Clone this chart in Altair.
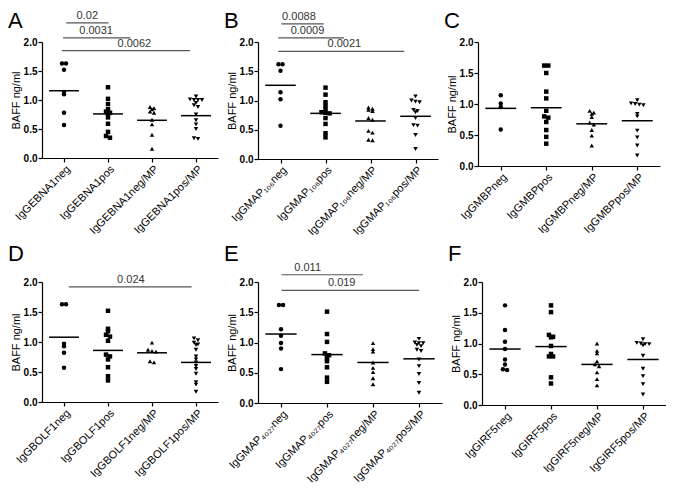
import altair as alt
import pandas as pd

FONT = "Liberation Sans"
SHAPES = ["circle", "square", "triangle-up", "triangle-down"]

# ---------------- Panel A ----------------
A_NAMES = ["IgGEBNA1neg", "IgGEBNA1pos", "IgGEBNA1neg/MP", "IgGEBNA1pos/MP"]
A_G0 = [1.63, 1.63, 1.52, 1.14, 1.10, 0.78, 0.57]
A_G1 = [1.22, 1.02, 0.93, 0.84, 0.80, 0.78, 0.76, 0.70, 0.59, 0.45, 0.38, 0.35]
A_G2 = [0.88, 0.86, 0.84, 0.80, 0.78, 0.66, 0.58, 0.40, 0.16]
A_G3 = [1.06, 1.01, 1.00, 1.00, 1.00, 0.95, 0.91, 0.88, 0.75, 0.65, 0.58, 0.50, 0.34, 0.33]
A_MEANS = [1.16, 0.76, 0.65, 0.73]
A_P = ["0.02", "0.0031", "0.0062"]
A_FROM = [0.05, -0.02, -0.05]
A_TO = [1.01, 1.51, 2.86]
A_LEVEL = [2.33, 2.07, 1.85]
A_TEXTX = [0.53, 0.73, 1.6]

# ---------------- Panel B ----------------
B_NAMES = ["IgGMAP₁₀₆neg", "IgGMAP₁₀₆pos", "IgGMAP₁₀₆neg/MP", "IgGMAP₁₀₆pos/MP"]
B_G0 = [1.62, 1.62, 1.51, 1.14, 1.02, 0.57]
B_G1 = [1.22, 1.10, 0.97, 0.91, 0.85, 0.80, 0.79, 0.78, 0.70, 0.60, 0.44, 0.37]
B_G2 = [0.88, 0.86, 0.84, 0.82, 0.70, 0.67, 0.48, 0.45, 0.33, 0.32]
B_G3 = [1.07, 1.00, 0.98, 0.97, 0.84, 0.82, 0.80, 0.70, 0.58, 0.57, 0.41, 0.17]
B_MEANS = [1.26, 0.78, 0.65, 0.73]
B_P = ["0.0088", "0.0009", "0.0021"]
B_FROM = [0.02, -0.05, -0.05]
B_TO = [0.96, 1.41, 2.75]
B_LEVEL = [2.31, 2.07, 1.84]
B_TEXTX = [0.41, 0.6, 1.42]

# ---------------- Panel C ----------------
C_NAMES = ["IgGMBPneg", "IgGMBPpos", "IgGMBPneg/MP", "IgGMBPpos/MP"]
C_G0 = [1.14, 1.01, 0.95, 0.59]
C_G1 = [1.62, 1.62, 1.50, 1.20, 1.09, 0.89, 0.80, 0.78, 0.71, 0.58, 0.47, 0.36]
C_G2 = [0.89, 0.86, 0.84, 0.79, 0.70, 0.67, 0.58, 0.49, 0.33]
C_G3 = [1.06, 1.01, 1.00, 0.99, 0.98, 0.84, 0.80, 0.57, 0.46, 0.33, 0.17]
C_MEANS = [0.93, 0.94, 0.68, 0.73]

# ---------------- Panel D ----------------
D_NAMES = ["IgGBOLF1neg", "IgGBOLF1pos", "IgGBOLF1neg/MP", "IgGBOLF1pos/MP"]
D_G0 = [1.63, 1.63, 0.97, 0.93, 0.82, 0.57]
D_G1 = [1.52, 1.22, 1.18, 1.12, 1.09, 1.02, 0.79, 0.76, 0.71, 0.58, 0.43, 0.36]
D_G2 = [0.99, 0.87, 0.85, 0.84, 0.68, 0.66]
D_G3 = [1.06, 1.03, 0.99, 0.96, 0.95, 0.87, 0.76, 0.71, 0.66, 0.60, 0.55, 0.47, 0.33, 0.29, 0.17]
D_MEANS = [1.08, 0.86, 0.82, 0.66]
D_P = ["0.024"]
D_FROM = [0.11]
D_TO = [2.9]
D_LEVEL = [1.92]
D_TEXTX = [1.52]

# ---------------- Panel E ----------------
E_NAMES = ["IgGMAP₄₀₂₇neg", "IgGMAP₄₀₂₇pos", "IgGMAP₄₀₂₇neg/MP", "IgGMAP₄₀₂₇pos/MP"]
E_G0 = [1.62, 1.62, 1.22, 1.11, 0.99, 0.90, 0.56]
E_G1 = [1.51, 1.14, 1.01, 0.82, 0.79, 0.78, 0.73, 0.69, 0.59, 0.42, 0.35]
E_G2 = [0.99, 0.89, 0.85, 0.67, 0.58, 0.51, 0.41, 0.31]
E_G3 = [1.06, 1.00, 0.99, 0.99, 0.96, 0.94, 0.88, 0.86, 0.72, 0.61, 0.48, 0.33, 0.17]
E_MEANS = [1.14, 0.80, 0.67, 0.73]
E_P = ["0.011", "0.019"]
E_FROM = [0.01, 0.01]
E_TO = [1.78, 3.0]
E_LEVEL = [2.12, 1.86]
E_TEXTX = [0.58, 1.32]

# ---------------- Panel F ----------------
F_NAMES = ["IgGIRF5neg", "IgGIRF5pos", "IgGIRF5neg/MP", "IgGIRF5pos/MP"]
F_G0 = [1.62, 1.22, 1.03, 0.91, 0.74, 0.66, 0.58, 0.57]
F_G1 = [1.62, 1.51, 1.14, 1.11, 1.10, 0.96, 0.83, 0.79, 0.79, 0.45, 0.35]
F_G2 = [1.00, 0.88, 0.84, 0.71, 0.66, 0.63, 0.53, 0.42, 0.32]
F_G3 = [1.07, 1.01, 1.00, 0.99, 0.99, 0.97, 0.80, 0.59, 0.47, 0.34, 0.17]
F_MEANS = [0.91, 0.95, 0.66, 0.74]


def swarm(values, tol=0.035, step=0.09):
    vals = sorted(values, reverse=True)
    clusters = []
    for v in vals:
        if clusters and clusters[-1][0] - v <= tol:
            clusters[-1].append(v)
        else:
            clusters.append([v])
    out = []
    for c in clusters:
        k = len(c)
        for i, v in enumerate(c):
            out.append((v, (i - (k - 1) / 2) * step))
    return out


def panel(letter, names, groups, means, w, h, letter_y, cmp=None):
    rows = []
    for gi, vals in enumerate(groups):
        for v, off in swarm(vals):
            rows.append({"g": gi, "v": v, "pos": gi + off})
    pts = pd.DataFrame(rows)
    xs = alt.Scale(domain=[-0.5, 3.5], nice=False, zero=False)
    ys = alt.Scale(domain=[0, 2], nice=False, zero=True)
    label_expr = "[" + ",".join("'" + n + "'" for n in names) + "][datum.value]"
    xaxis = alt.Axis(values=[0, 1, 2, 3], labelExpr=label_expr, labelAngle=-45,
                     labelAlign="right", labelBaseline="top", labelOverlap=False,
                     labelFlush=False, title=None, grid=False, labelFontSize=11,
                     labelFontWeight="normal")
    yaxis = alt.Axis(values=[0, 0.5, 1, 1.5, 2], format=".1f", title="BAFF ng/ml",
                     grid=False, labelFontSize=10, labelFontWeight="bold",
                     titleFontSize=11, titleFontWeight="normal")
    points = alt.Chart(pts).mark_point(filled=True, size=20, color="black", opacity=1).encode(
        x=alt.X("pos:Q", scale=xs, axis=xaxis),
        y=alt.Y("v:Q", scale=ys, axis=yaxis),
        shape=alt.Shape("g:N", scale=alt.Scale(domain=[0, 1, 2, 3], range=SHAPES), legend=None),
    )
    mdf = pd.DataFrame({"g": list(range(4)), "m": means})
    mean_rule = alt.Chart(mdf).transform_calculate(
        lo="datum.g - 0.34", hi="datum.g + 0.34"
    ).mark_rule(color="black", strokeWidth=1.5).encode(
        x=alt.X("lo:Q", scale=xs, axis=xaxis),
        x2="hi:Q",
        y=alt.Y("m:Q", scale=ys, axis=yaxis),
    )
    layers = [points, mean_rule]
    if cmp is not None:
        p, a, b, lvl, tx = cmp
        cdf = pd.DataFrame({"p": p, "a": a, "b": b, "lvl": lvl, "tx": tx})
        rules = alt.Chart(cdf).mark_rule(color="#555555", strokeWidth=1.2).encode(
            x=alt.X("a:Q", scale=xs, axis=xaxis),
            x2="b:Q",
            y=alt.Y("lvl:Q", scale=ys, axis=yaxis),
        )
        texts = alt.Chart(cdf).mark_text(fontSize=11, color="#333333", baseline="bottom",
                                         dy=-2, font=FONT).encode(
            x=alt.X("tx:Q", scale=xs, axis=xaxis),
            y=alt.Y("lvl:Q", scale=ys, axis=yaxis),
            text="p:N",
        )
        layers += [rules, texts]
    lab = alt.Chart(pd.DataFrame({"t": [letter]})).mark_text(
        fontSize=22, align="left", baseline="top", font=FONT, color="black"
    ).encode(x=alt.value(-34), y=alt.value(letter_y), text="t:N")
    layers.append(lab)
    return alt.layer(*layers).properties(width=w, height=h)


pA = panel("A", A_NAMES, [A_G0, A_G1, A_G2, A_G3], A_MEANS, 176, 116, -31,
           (A_P, A_FROM, A_TO, A_LEVEL, A_TEXTX))
pB = panel("B", B_NAMES, [B_G0, B_G1, B_G2, B_G3], B_MEANS, 180, 117, -31,
           (B_P, B_FROM, B_TO, B_LEVEL, B_TEXTX))
pC = panel("C", C_NAMES, [C_G0, C_G1, C_G2, C_G3], C_MEANS, 182, 124, -31)
pD = panel("D", D_NAMES, [D_G0, D_G1, D_G2, D_G3], D_MEANS, 176, 120, -38,
           (D_P, D_FROM, D_TO, D_LEVEL, D_TEXTX))
pE = panel("E", E_NAMES, [E_G0, E_G1, E_G2, E_G3], E_MEANS, 184, 121, -38,
           (E_P, E_FROM, E_TO, E_LEVEL, E_TEXTX))
pF = panel("F", F_NAMES, [F_G0, F_G1, F_G2, F_G3], F_MEANS, 184, 123, -38)

row1 = alt.hconcat(pA, pB, pC, spacing=6)
row2 = alt.hconcat(pD, pE, pF, spacing=6)

chart = alt.vconcat(row1, row2, spacing=6).properties(
    padding={"top": 1, "left": 0, "right": 0, "bottom": 6}
).configure_view(
    stroke=None
).configure_axis(
    labelFont=FONT, titleFont=FONT, domainColor="black", tickColor="black",
    labelColor="black", titleColor="black", tickSize=4, labelPadding=1,
    titlePadding=2, domainWidth=1.2, tickWidth=1.2,
).configure_text(font=FONT)

chart.save("out.html", embed_options={"renderer": "svg", "actions": False})
